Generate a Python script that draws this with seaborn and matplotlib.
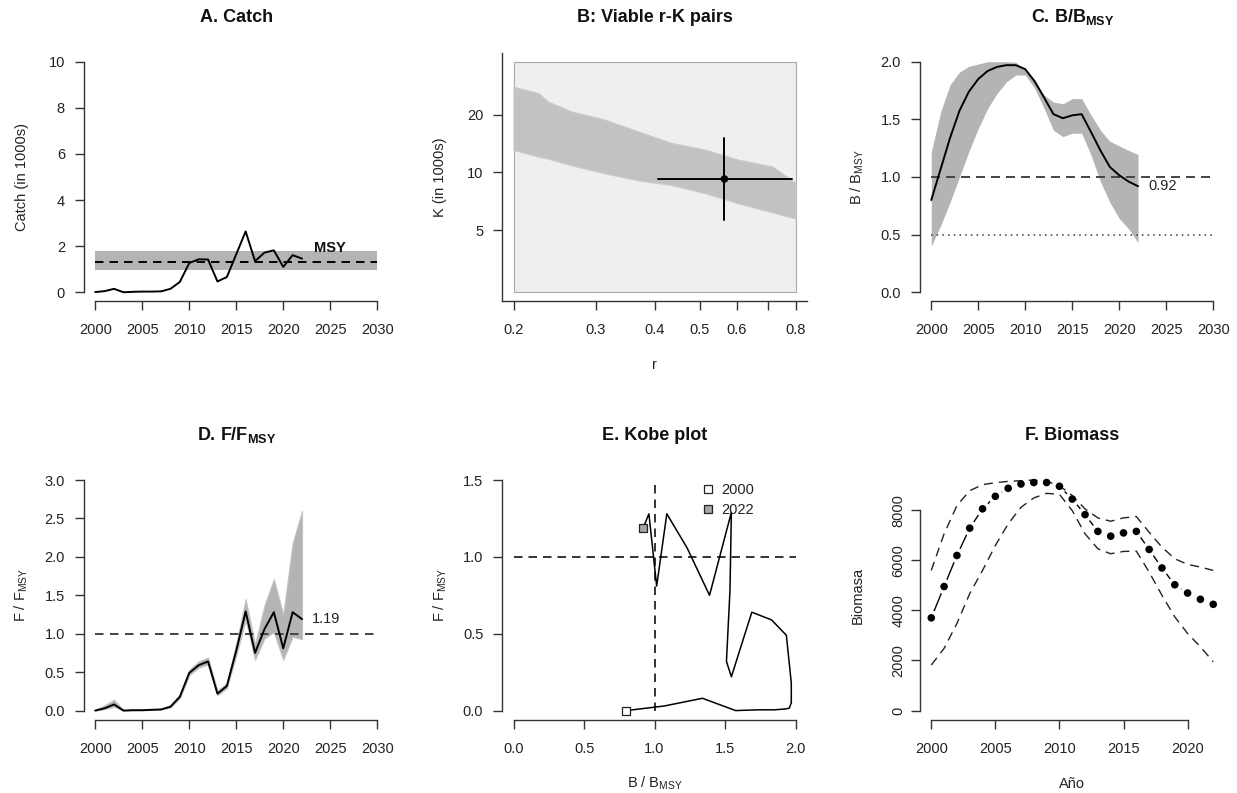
import numpy as np
import pandas as pd
import matplotlib
matplotlib.use("Agg")
import matplotlib.pyplot as plt
import seaborn as sns
from matplotlib.lines import Line2D
from matplotlib.ticker import NullLocator

# ---------------- data ----------------
years = list(range(2000, 2023))

catch = [0.01, 0.05, 0.15, 0.00, 0.02, 0.03, 0.03, 0.04, 0.15, 0.45, 1.27, 1.43, 1.42,
         0.47, 0.66, 1.65, 2.64, 1.35, 1.72, 1.82, 1.10, 1.61, 1.46]
msy = 1.33
msy_low = 0.955
msy_high = 1.79

r_edge = [0.200, 0.226, 0.237, 0.266, 0.313, 0.369, 0.435, 0.513, 0.605, 0.714, 0.800]
k_upper = [27.9, 25.8, 23.3, 20.7, 18.8, 16.3, 14.2, 13.1, 11.6, 10.7, 8.8]
k_lower = [13.1, 12.1, 11.8, 10.9, 9.9, 9.1, 8.6, 7.8, 6.9, 6.2, 5.75]
r_prior = [0.2, 0.8]
k_prior = [2.37, 37.7]
r_best = 0.564
r_ci = [0.407, 0.788]
k_best = 9.23
k_ci = [5.63, 15.15]

bbmsy = [0.80, 1.07, 1.34, 1.575, 1.74, 1.85, 1.92, 1.955, 1.97, 1.97, 1.935, 1.83,
         1.69, 1.545, 1.51, 1.535, 1.545, 1.39, 1.23, 1.087, 1.015, 0.96, 0.92]
bbmsy_lo = [0.40, 0.58, 0.78, 1.00, 1.22, 1.42, 1.595, 1.725, 1.825, 1.885, 1.885, 1.77,
            1.595, 1.406, 1.35, 1.38, 1.38, 1.19, 0.96, 0.78, 0.64, 0.55, 0.43]
bbmsy_hi = [1.218, 1.565, 1.80, 1.91, 1.96, 1.98, 2.00, 2.00, 2.00, 1.995, 1.93, 1.83,
            1.71, 1.65, 1.635, 1.68, 1.68, 1.537, 1.406, 1.31, 1.27, 1.23, 1.195]

ffmsy = [0.00, 0.03, 0.08, 0.00, 0.005, 0.005, 0.01, 0.015, 0.05, 0.18, 0.49, 0.59,
         0.64, 0.22, 0.32, 0.78, 1.29, 0.75, 1.06, 1.28, 0.81, 1.28, 1.19]
ffmsy_lo = [0.00, 0.02, 0.05, 0.00, 0.003, 0.004, 0.008, 0.012, 0.04, 0.16, 0.46, 0.56,
            0.60, 0.20, 0.29, 0.72, 1.18, 0.66, 0.94, 1.02, 0.66, 0.96, 0.93]
ffmsy_hi = [0.01, 0.07, 0.14, 0.01, 0.008, 0.008, 0.014, 0.02, 0.07, 0.21, 0.53, 0.64,
            0.69, 0.26, 0.36, 0.87, 1.45, 0.86, 1.37, 1.71, 1.25, 2.18, 2.60]

biomass = [3700, 4950, 6190, 7280, 8050, 8550, 8870, 9040, 9100, 9100, 8950, 8440,
           7820, 7150, 6960, 7090, 7150, 6430, 5690, 5020, 4690, 4440, 4240]
biomass_lo = [1817, 2481, 3475, 4668, 5594, 6588, 7451, 8111, 8485, 8668, 8630, 7980,
              7053, 6456, 6258, 6350, 6363, 5527, 4600, 3738, 3077, 2545, 1948]
biomass_hi = [5594, 7053, 8179, 8775, 9014, 9094, 9147, 9173, 9200, 9147, 8974, 8577,
              8047, 7689, 7555, 7689, 7742, 7117, 6521, 6058, 5833, 5726, 5594]

year_ticks = [2000, 2005, 2010, 2015, 2020, 2025, 2030]

# ---------------- style ----------------
sns.set_theme(style="ticks")
plt.rcParams["font.family"] = ["Liberation Sans", "DejaVu Sans"]
plt.rcParams["mathtext.fontset"] = "custom"
plt.rcParams["mathtext.rm"] = "Liberation Sans"
plt.rcParams["mathtext.it"] = "Liberation Sans:italic"
plt.rcParams["mathtext.bf"] = "Liberation Sans:bold"
plt.rcParams["axes.edgecolor"] = "#333333"
plt.rcParams["axes.linewidth"] = 1.0
plt.rcParams["text.color"] = "#222222"
plt.rcParams["axes.labelcolor"] = "#222222"

FS = 10.5
TFS = 13
W, H = 1237, 793
AXW, AXH = 304.5, 249.0
lefts = [84.0, 502.3, 920.0]
tops = [52.5, 470.8]

fig = plt.figure(figsize=(W / 100, H / 100), dpi=100)
fig.patch.set_facecolor("white")


def make_ax(col, row):
    return fig.add_axes([lefts[col] / W, 1 - (tops[row] + AXH) / H, AXW / W, AXH / H])


def expand(lo, hi, f=0.04):
    d = (hi - lo) * f
    return lo - d, hi + d


def dash(on_px, off_px, lw):
    return (0, (on_px * 0.72 / lw, off_px * 0.72 / lw))


def style_ax(ax, xlim, ylim, xt, yt, xtl=None, ytl=None, bounds=True):
    ax.set_facecolor("white")
    ax.set_xlim(*expand(*xlim))
    ax.set_ylim(*expand(*ylim))
    ax.set_xticks(xt)
    ax.set_yticks(yt)
    if xtl is not None:
        ax.set_xticklabels(xtl)
    if ytl is not None:
        ax.set_yticklabels(ytl)
    ax.spines["top"].set_visible(False)
    ax.spines["right"].set_visible(False)
    if bounds:
        ax.spines["left"].set_bounds(yt[0], yt[-1])
        ax.spines["bottom"].set_bounds(xt[0], xt[-1])
    ax.tick_params(axis="both", direction="out", length=6.5, width=1.0,
                   color="#333333", labelsize=FS, labelcolor="#222222")
    ax.tick_params(axis="x", pad=9.2)
    ax.tick_params(axis="y", pad=7.2)
    ax.grid(False)


def set_title(ax, t):
    ax.set_title(t, fontsize=TFS, fontweight="bold", y=1 + 30.8 / AXH, pad=0,
                 va="baseline", color="#111111")


def set_labels(ax, xl=None, yl=None):
    if xl:
        ax.set_xlabel(xl, fontsize=FS)
        ax.xaxis.set_label_coords(0.5, -68 / AXH)
        ax.xaxis.label.set_va("baseline")
    if yl:
        ax.set_ylabel(yl, fontsize=FS)
        ax.yaxis.set_label_coords(-58 / AXW, 0.5)
        ax.yaxis.label.set_va("baseline")


BAND = "#B4B4B4"

# ---------------- A. Catch ----------------
ax = make_ax(0, 0)
ax.fill_between([year_ticks[0], year_ticks[-1]], msy_low, msy_high, color=BAND, lw=0, zorder=1)
ax.hlines(msy, year_ticks[0], year_ticks[-1], color="black", lw=1.4,
          linestyle=dash(8.5, 6, 1.4), zorder=2)
sns.lineplot(x=years, y=catch, ax=ax, color="black", lw=1.4, zorder=3)
ax.text(2025, 1.91, "MSY", fontsize=FS, fontweight="bold", ha="center", va="center",
        color="#111111")
style_ax(ax, (2000, 2030), (0, 10), year_ticks, [0, 2, 4, 6, 8, 10])
set_title(ax, "A. Catch")
set_labels(ax, yl="Catch (in 1000s)")

# ---------------- B. Viable r-K pairs ----------------
ax = make_ax(1, 0)
ax.set_xscale("log")
ax.set_yscale("log")
ax.fill_between(r_prior, k_prior[0], k_prior[1], facecolor="#EFEFEF",
                edgecolor="#A8A8A8", lw=0.8, zorder=1)
ax.fill_between(r_edge, k_lower, k_upper, facecolor="#C2C2C2", edgecolor="#C8C8C8",
                lw=1.0, zorder=2)
sns.lineplot(x=r_ci, y=[k_best, k_best], ax=ax, color="black", lw=1.4, zorder=3)
sns.lineplot(x=[r_best, r_best], y=k_ci, ax=ax, color="black", lw=1.4, zorder=3,
             sort=False, estimator=None)
sns.scatterplot(x=[r_best], y=[k_best], ax=ax, color="black", s=30, edgecolor="none",
                zorder=4)
lr = np.log(r_prior)
lk = np.log(k_prior)
ax.set_xlim(*np.exp(expand(lr[0], lr[1])))
ax.set_ylim(*np.exp(expand(lk[0], lk[1])))
rt = [0.2, 0.3, 0.4, 0.5, 0.6, 0.7, 0.8]
ax.set_xticks(rt)
ax.set_xticklabels(["0.2", "0.3", "0.4", "0.5", "0.6", "", "0.8"])
ax.set_yticks([5, 10, 20])
ax.set_yticklabels(["5", "10", "20"])
ax.xaxis.set_minor_locator(NullLocator())
ax.yaxis.set_minor_locator(NullLocator())
ax.spines["top"].set_visible(False)
ax.spines["right"].set_visible(False)
ax.tick_params(axis="both", direction="out", length=6.5, width=1.0,
               color="#333333", labelsize=FS, labelcolor="#222222")
ax.tick_params(axis="x", pad=9.2)
ax.tick_params(axis="y", pad=7.2)
set_title(ax, "B: Viable r-K pairs")
set_labels(ax, xl="r", yl="K (in 1000s)")

# ---------------- C. B/BMSY ----------------
ax = make_ax(2, 0)
ax.fill_between(years, bbmsy_lo, bbmsy_hi, color=BAND, lw=0, zorder=1)
ax.hlines(1.0, year_ticks[0], year_ticks[-1], color="#444444", lw=1.4,
          linestyle=dash(9, 6, 1.4), zorder=2)
ax.hlines(0.5, year_ticks[0], year_ticks[-1], color="#444444", lw=1.2,
          linestyle=dash(1.5, 4.2, 1.2), zorder=2)
sns.lineplot(x=years, y=bbmsy, ax=ax, color="black", lw=1.4, zorder=3)
ax.text(years[-1] + 1.1, bbmsy[-1], f"{bbmsy[-1]:.2f}", fontsize=FS, ha="left",
        va="center", color="#222222")
style_ax(ax, (2000, 2030), (0, 2), year_ticks, [0.0, 0.5, 1.0, 1.5, 2.0],
         ytl=["0.0", "0.5", "1.0", "1.5", "2.0"])
set_title(ax, r"C. B/B$_{\mathbf{MSY}}$")
set_labels(ax, yl=r"B / B$_{\mathrm{MSY}}$")

# ---------------- D. F/FMSY ----------------
ax = make_ax(0, 1)
ax.fill_between(years, ffmsy_lo, ffmsy_hi, color=BAND, lw=0.8, edgecolor="#C4C4C4", zorder=1)
ax.hlines(1.0, year_ticks[0], year_ticks[-1], color="#444444", lw=1.4,
          linestyle=dash(8.5, 6.5, 1.4), zorder=2)
sns.lineplot(x=years, y=ffmsy, ax=ax, color="black", lw=1.4, zorder=3)
ax.text(years[-1] + 1.0, ffmsy[-1], f"{ffmsy[-1]:.2f}", fontsize=FS, ha="left",
        va="center", color="#222222")
style_ax(ax, (2000, 2030), (0, 3), year_ticks, [0.0, 0.5, 1.0, 1.5, 2.0, 2.5, 3.0],
         ytl=["0.0", "0.5", "1.0", "1.5", "2.0", "2.5", "3.0"])
set_title(ax, r"D. F/F$_{\mathbf{MSY}}$")
set_labels(ax, yl=r"F / F$_{\mathrm{MSY}}$")

# ---------------- E. Kobe plot ----------------
ax = make_ax(1, 1)
ax.hlines(1.0, 0, 2, color="#333333", lw=1.4, linestyle=dash(8.5, 6, 1.4), zorder=1)
ax.vlines(1.0, 0, 1.5, color="#333333", lw=1.4, linestyle=dash(8.5, 6, 1.4), zorder=1)
sns.lineplot(x=bbmsy, y=ffmsy, ax=ax, sort=False, estimator=None, color="black",
             lw=1.1, zorder=2)
ax.plot(bbmsy[0], ffmsy[0], marker="s", ms=6.0, mfc="white", mec="#222222", mew=0.9,
        ls="none", zorder=4)
ax.plot(bbmsy[-1], ffmsy[-1], marker="s", ms=6.0, mfc="#A6A6A6", mec="#222222", mew=0.9,
        ls="none", zorder=4)
handles = [Line2D([], [], marker="s", ls="none", ms=6.0, mfc="white", mec="#222222", mew=0.9),
           Line2D([], [], marker="s", ls="none", ms=6.0, mfc="#A6A6A6", mec="#222222", mew=0.9)]
ax.legend(handles, [str(years[0]), str(years[-1])], loc="center left",
          bbox_to_anchor=(0.655, 0.883), frameon=False, handlelength=0.8,
          handletextpad=0.55, labelspacing=0.42, borderpad=0, borderaxespad=0,
          fontsize=FS)
style_ax(ax, (0, 2), (0, 1.5), [0.0, 0.5, 1.0, 1.5, 2.0], [0.0, 0.5, 1.0, 1.5],
         xtl=["0.0", "0.5", "1.0", "1.5", "2.0"], ytl=["0.0", "0.5", "1.0", "1.5"])
set_title(ax, "E. Kobe plot")
set_labels(ax, xl=r"B / B$_{\mathrm{MSY}}$", yl=r"F / F$_{\mathrm{MSY}}$")

# ---------------- F. Biomass ----------------
ax = make_ax(2, 1)
sns.lineplot(x=years, y=biomass, ax=ax, color="black", lw=1.0, zorder=1)
sns.scatterplot(x=years, y=biomass, ax=ax, color="white", s=115, edgecolor="none",
                zorder=2)
sns.lineplot(x=years, y=biomass_hi, ax=ax, color="#222222", lw=1.0,
             linestyle=dash(9, 6, 1.0), zorder=3)
sns.lineplot(x=years, y=biomass_lo, ax=ax, color="#222222", lw=1.0,
             linestyle=dash(9, 6, 1.0), zorder=3)
sns.scatterplot(x=years, y=biomass, ax=ax, color="black", s=30, edgecolor="none",
                zorder=4)
style_ax(ax, (2000, 2022), (0, max(biomass_hi)), [2000, 2005, 2010, 2015, 2020],
         [0, 2000, 4000, 6000, 8000])
ax.set_yticks([0, 2000, 4000, 6000, 8000], ["0", "2000", "4000", "6000", "8000"],
              rotation=90, va="center")
ax.tick_params(axis="y", pad=4.2)
set_title(ax, "F. Biomass")
set_labels(ax, xl="Año", yl="Biomasa")

fig.savefig("out.png", dpi=100, facecolor="white")
